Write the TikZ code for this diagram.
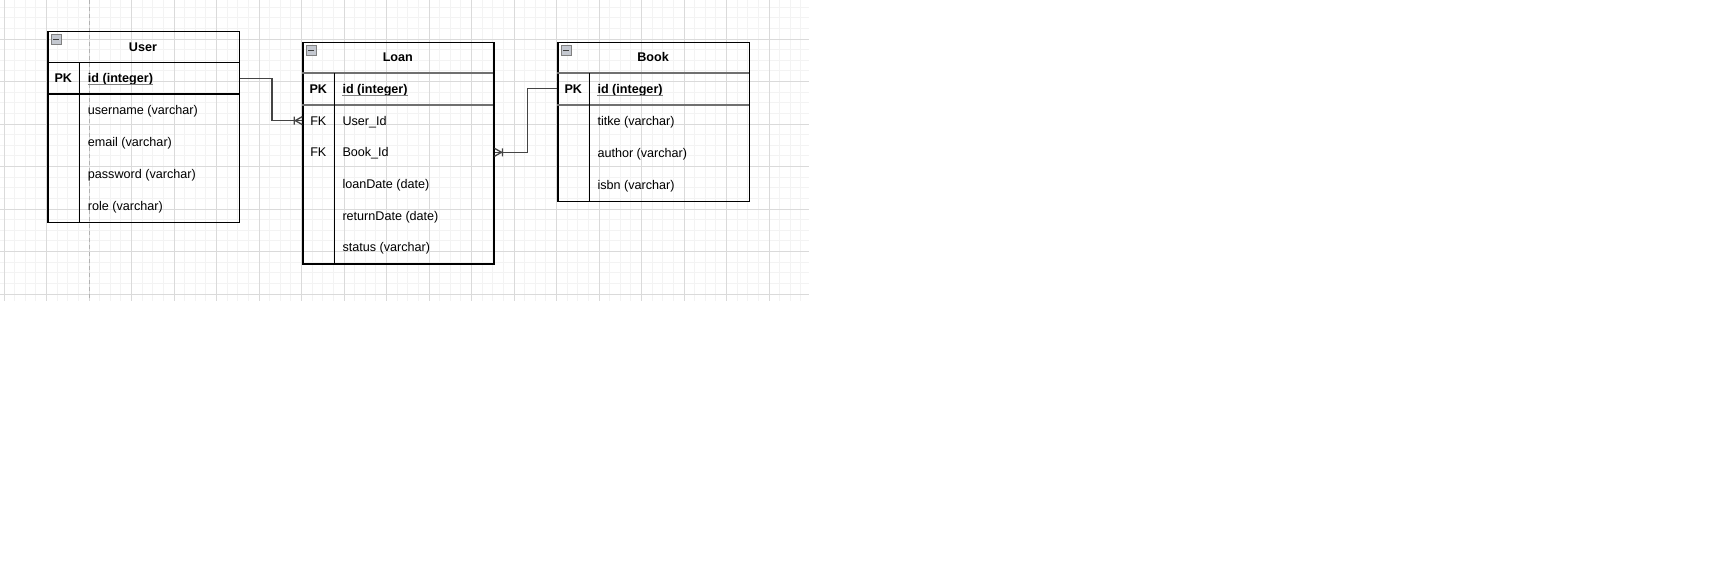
\documentclass[tikz,border=0pt]{standalone}
\usepackage{fontspec}
\setmainfont{Liberation Sans}
\usetikzlibrary{calc}
\definecolor{gridminor}{HTML}{F3F3F3}
\definecolor{gridmajor}{HTML}{DADADA}
\definecolor{linkcol}{HTML}{444444}
\definecolor{sepcol}{HTML}{707070}
\definecolor{iconfill}{HTML}{C4C8D0}
\newcommand\erfont{\fontsize{12.6}{15}\selectfont}
\tikzset {
  every node/.style={font=\erfont, inner sep=0pt},
  tbl/.style={draw=black, line width=1.2pt},
  sep/.style={draw=sepcol, line width=1.6pt},
  title/.style={anchor=base, font=\erfont\bfseries},
  keylbl/.style={anchor=base},
  field/.style={anchor=base west},
  uline/.style={draw=gray, line width=1.1pt},
  link/.style={draw=linkcol, line width=1.3pt},
  pagebreak/.style={draw=black!30, line width=1pt, dash pattern=on 4pt off 3pt},
  minusbtn/.style={draw=gray, fill=iconfill, line width=0.7pt, minimum size=10pt,
    path picture={\draw[black!75, line width=1.5pt]
      ([xshift=2pt]path picture bounding box.west) --
      ([xshift=-2pt]path picture bounding box.east);}},
}

\begin{document}
\begin{tikzpicture}[x=1pt,y=-1pt]
  \useasboundingbox (0,0) rectangle (1710,566);
  % background grid
  \foreach \i in {0,...,75}
    \draw[gridminor] ({3.8+10.625*\i},0) -- ({3.8+10.625*\i},300.7);
  \foreach \i in {1,...,28}
    \draw[gridminor] (0,{-3.7+10.625*\i}) -- (809,{-3.7+10.625*\i});
  \foreach \i in {0,...,18}
    \draw[gridmajor] ({3.8+42.5*\i},0) -- ({3.8+42.5*\i},300.7);
  \foreach \i in {1,...,7}
    \draw[gridmajor] (0,{-3.7+42.5*\i}) -- (809,{-3.7+42.5*\i});
  \draw[pagebreak] (89.3,0) -- (89.3,300.7);

  % User
  \node[tbl, minimum width=191.4pt, minimum height=191pt, anchor=north west] (user) at (47.3,30.7) {};
  \draw[tbl] (47.3,62.3) -- (238.7,62.3);
  \draw[tbl] (47.3,94) -- (238.7,94);
  \draw[tbl] (79.3,62.3) -- (79.3,221.7);
  \node[minusbtn] (user-min) at (56,39.7) {};
  \node[title] (user-title) at (143,51.1) {User};
  \node[keylbl, font=\erfont\bfseries] (user-pk) at (63.3,82.8) {PK};
  \node[field, font=\erfont\bfseries] (user-id) at (87.7,82.8) {id (integer)};
  \draw[uline] ($(user-id.base west)+(0,1.8)$) -- ($(user-id.base east)+(0,1.8)$);
  \foreach \txt [count=\i] in {{username (varchar)},{email (varchar)},{password (varchar)},{role (varchar)}}
    \node[field] (user-\i) at (87.7,{94+31.9*(\i-0.5)+4.6}) {\txt};

  % Loan
  \node[tbl, minimum width=191pt, minimum height=221.6pt, anchor=north west] (loan) at (302.3,41.7) {};
  \draw[sep] (302.3,73) -- (493.3,73);
  \draw[sep] (302.3,104.7) -- (493.3,104.7);
  \draw[tbl] (334.3,73) -- (334.3,263.3);
  \node[minusbtn] (loan-min) at (311,50.7) {};
  \node[title] (loan-title) at (397.8,61.9) {Loan};
  \node[keylbl, font=\erfont\bfseries] (loan-pk) at (318.3,93.5) {PK};
  \node[field, font=\erfont\bfseries] (loan-id) at (342.3,93.5) {id (integer)};
  \draw[uline] ($(loan-id.base west)+(0,1.8)$) -- ($(loan-id.base east)+(0,1.8)$);
  \node[keylbl] (loan-fk1) at (318.3,125.2) {FK};
  \node[keylbl] (loan-fk2) at (318.3,156.9) {FK};
  \foreach \txt [count=\i] in {{User\_Id},{Book\_Id},{loanDate (date)},{returnDate (date)},{status (varchar)}}
    \node[field] (loan-\i) at (342.3,{104.7+31.7*(\i-0.5)+4.6}) {\txt};

  % Book
  \node[tbl, minimum width=191.4pt, minimum height=159pt, anchor=north west] (book) at (557.3,41.7) {};
  \draw[sep] (557.3,73) -- (748.7,73);
  \draw[sep] (557.3,104.7) -- (748.7,104.7);
  \draw[tbl] (589.3,73) -- (589.3,200.7);
  \node[minusbtn] (book-min) at (566,50.7) {};
  \node[title] (book-title) at (653,61.9) {Book};
  \node[keylbl, font=\erfont\bfseries] (book-pk) at (573.3,93.5) {PK};
  \node[field, font=\erfont\bfseries] (book-id) at (597.3,93.5) {id (integer)};
  \draw[uline] ($(book-id.base west)+(0,1.8)$) -- ($(book-id.base east)+(0,1.8)$);
  \foreach \txt [count=\i] in {{titke (varchar)},{author (varchar)},{isbn (varchar)}}
    \node[field] (book-\i) at (597.3,{104.7+32*(\i-0.5)+4.6}) {\txt};

  % relations
  \draw[link] (user.east |- 0,78.5) -- ++(32,0) |- (loan.west |- 0,120.6);
  \draw[link] (loan.west |- 0,120.6) ++(0,-4) -- ++(-7,4) -- ++(7,4) ++(-8,-8) -- ++(0,8);
  \draw[link] (book.west |- 0,88.7) -- ++(-30,0) |- (loan.east |- 0,152.3);
  \draw[link] (loan.east |- 0,152.3) ++(0,-4) -- ++(7,4) -- ++(-7,4) ++(8,-8) -- ++(0,8);
\end{tikzpicture}
\end{document}
